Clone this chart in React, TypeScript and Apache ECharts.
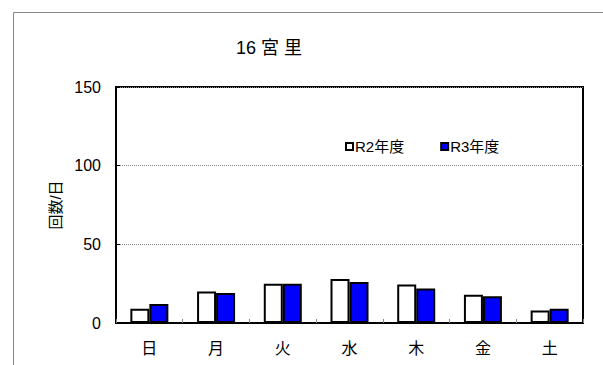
import React, { useEffect, useRef } from "react";
import * as echarts from "echarts";

const categories = ["日", "月", "火", "水", "木", "金", "土"];
const r2Values = [9, 20, 25, 28, 24.5, 18, 8];
const r3Values = [12, 19, 25, 26, 22, 17, 9];
const yTicks = [0, 50, 100, 150];

const FONT = "'Liberation Sans', 'Noto Sans CJK JP', sans-serif";

export default function App() {
  const ref = useRef<HTMLDivElement>(null);
  useEffect(() => {
    document.body.style.margin = "0";
    const chart = echarts.init(ref.current!, undefined, { renderer: "svg" });
    chart.setOption({
      animation: false,
      backgroundColor: "#fff",
      textStyle: { fontFamily: FONT },
      title: {
        text: "16 宮 里",
        left: 264,
        top: 34,
        textAlign: "center",
        textStyle: { fontSize: 18, fontWeight: "normal", color: "#000", fontFamily: FONT },
      },
      graphic: [
        {
          type: "rect",
          shape: { x: 13.5, y: 12.5, width: 700, height: 500 },
          style: { fill: "none", stroke: "#888", lineWidth: 1 },
          silent: true,
        },
      ],
      legend: {
        left: 340,
        top: 134,
        itemWidth: 7,
        itemHeight: 7,
        itemGap: 36,
        icon: "rect",
        textStyle: { fontSize: 15, color: "#000", fontFamily: FONT, padding: [0, 0, 0, -3] },
        data: ["R2年度", "R3年度"],
      },
      grid: {
        left: 116,
        top: 87,
        right: 20,
        bottom: 42,
        show: true,
        borderColor: "#000",
        borderWidth: 2,
        backgroundColor: "transparent",
      },
      xAxis: {
        type: "category",
        data: categories,
        axisLine: { lineStyle: { color: "#000", width: 2 } },
        axisTick: { show: true, inside: true, length: 4, lineStyle: { color: "#888" } },
        axisLabel: { fontSize: 16, color: "#000", margin: 17, fontFamily: FONT },
      },
      yAxis: {
        type: "value",
        min: 0,
        max: 150,
        interval: 50,
        name: "回数/日",
        nameLocation: "middle",
        nameGap: 51,
        nameRotate: 90,
        nameTextStyle: { fontSize: 15, color: "#000", fontFamily: FONT },
        axisLine: { show: true, lineStyle: { color: "#000", width: 2 } },
        axisTick: { show: true, inside: true, length: 4, lineStyle: { color: "#000" } },
        axisLabel: {
          fontSize: 16,
          color: "#000",
          margin: 15,
          fontFamily: FONT,
          formatter: (v: number) => (yTicks.includes(v) ? String(v) : ""),
        },
        splitLine: { show: true, lineStyle: { color: "#888", type: [1, 1], width: 1 } },
      },
      series: [
        {
          name: "R2年度",
          type: "bar",
          data: r2Values,
          barWidth: 19,
          barGap: "0%",
          itemStyle: { color: "#fff", borderColor: "#000", borderWidth: 2 },
        },
        {
          name: "R3年度",
          type: "bar",
          data: r3Values,
          barWidth: 19,
          barGap: "0%",
          itemStyle: { color: "#0000ff", borderColor: "#000", borderWidth: 2 },
        },
      ],
    });
    return () => chart.dispose();
  }, []);
  return (
    <div
      ref={ref}
      style={{ position: "absolute", left: 0, top: 0, width: 603, height: 365 }}
    />
  );
}
